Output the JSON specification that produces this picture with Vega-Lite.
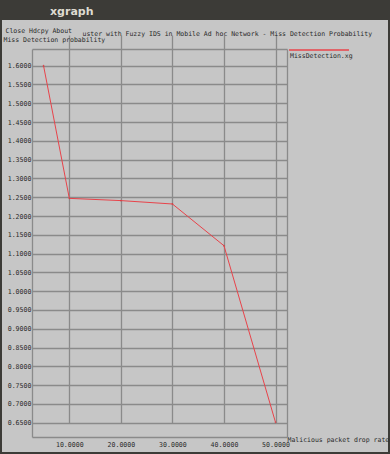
{
  "$schema": "https://vega.github.io/schema/vega-lite/v6.json",
  "autosize": "none",
  "width": 386,
  "height": 432,
  "padding": {"left": 2, "top": 20, "right": 2, "bottom": 2},
  "background": "#3c3b37",
  "title": {
    "text": "xgraph",
    "anchor": "start",
    "frame": "group",
    "dx": 48,
    "offset": 3,
    "font": "DejaVu Sans",
    "fontSize": 11,
    "fontWeight": "bold",
    "color": "#dfdbd2"
  },
  "config": {
    "view": {"fill": "#c6c6c6", "stroke": null},
    "axis": {
      "labelFont": "DejaVu Sans Mono",
      "labelFontSize": 6.6,
      "labelColor": "#2a2a2a",
      "titleFont": "DejaVu Sans Mono",
      "titleFontSize": 6.5,
      "titleFontWeight": "normal",
      "titleColor": "#2a2a2a",
      "titleAngle": 0,
      "titleAlign": "left",
      "titleBaseline": "middle",
      "domainColor": "#8a8a8a",
      "domainWidth": 1.3,
      "gridColor": "#8a8a8a",
      "gridWidth": 1.3,
      "gridOpacity": 1,
      "tickSize": 0
    }
  },
  "data": {
    "values": [
      {"rate": 5, "prob": 1.6, "series": "MissDetection.xg"},
      {"rate": 10, "prob": 1.247, "series": "MissDetection.xg"},
      {"rate": 20, "prob": 1.241, "series": "MissDetection.xg"},
      {"rate": 30, "prob": 1.232, "series": "MissDetection.xg"},
      {"rate": 40, "prob": 1.121, "series": "MissDetection.xg"},
      {"rate": 50, "prob": 0.651, "series": "MissDetection.xg"}
    ]
  },
  "layer": [
    {
      "mark": {"type": "line", "strokeWidth": 1},
      "encoding": {
        "x": {
          "field": "rate",
          "type": "quantitative",
          "scale": {"domain": [2.76, 52.23], "range": [30, 285], "nice": false, "zero": false},
          "axis": {
            "orient": "bottom",
            "offset": -15,
            "values": [10, 20, 30, 40, 50],
            "format": ".4f",
            "labelPadding": 4.5,
            "grid": true,
            "title": "Malicious packet drop rate",
            "titleX": 285,
            "titleY": 2
          }
        },
        "y": {
          "field": "prob",
          "type": "quantitative",
          "scale": {"domain": [0.612, 1.6444], "range": [417, 29], "nice": false, "zero": false},
          "axis": {
            "orient": "left",
            "offset": -30,
            "values": [0.65, 0.7, 0.75, 0.8, 0.85, 0.9, 0.95, 1.0, 1.05, 1.1, 1.15, 1.2, 1.25, 1.3, 1.35, 1.4, 1.45, 1.5, 1.55, 1.6],
            "format": ".4f",
            "labelPadding": 1,
            "grid": true,
            "title": "Miss Detection probability",
            "titleX": -29,
            "titleY": 19
          }
        },
        "color": {
          "field": "series",
          "type": "nominal",
          "scale": {"range": ["#e8434a"]},
          "legend": {
            "orient": "none",
            "legendX": 313,
            "legendY": 32,
            "title": null,
            "padding": 0,
            "symbolType": "M-10,-2H10",
            "symbolSize": 36,
            "symbolStrokeWidth": 1.3,
            "symbolStrokeColor": "#e8434a",
            "labelOffset": -33,
            "labelFont": "DejaVu Sans Mono",
            "labelFontSize": 6.5,
            "labelColor": "#2a2a2a"
          }
        }
      }
    },
    {
      "mark": {"type": "point", "filled": true, "size": 3, "color": "#d8343b"},
      "encoding": {
        "x": {
          "field": "rate",
          "type": "quantitative",
          "scale": {"domain": [2.76, 52.23], "range": [30, 285], "nice": false, "zero": false},
          "axis": {
            "orient": "top",
            "offset": -29,
            "labels": false,
            "ticks": false,
            "grid": false,
            "title": "uster with Fuzzy IDS in Mobile Ad hoc Network - Miss Detection Probability",
            "titleX": 80,
            "titleY": -16
          }
        },
        "y": {
          "field": "prob",
          "type": "quantitative",
          "scale": {"domain": [0.612, 1.6444], "range": [417, 29], "nice": false, "zero": false},
          "axis": {
            "orient": "right",
            "offset": -101,
            "labels": false,
            "ticks": false,
            "grid": false,
            "title": "Close  Hdcpy  About",
            "titleX": -282,
            "titleY": 10
          }
        }
      }
    }
  ],
  "resolve": {"axis": {"x": "independent", "y": "independent"}}
}
